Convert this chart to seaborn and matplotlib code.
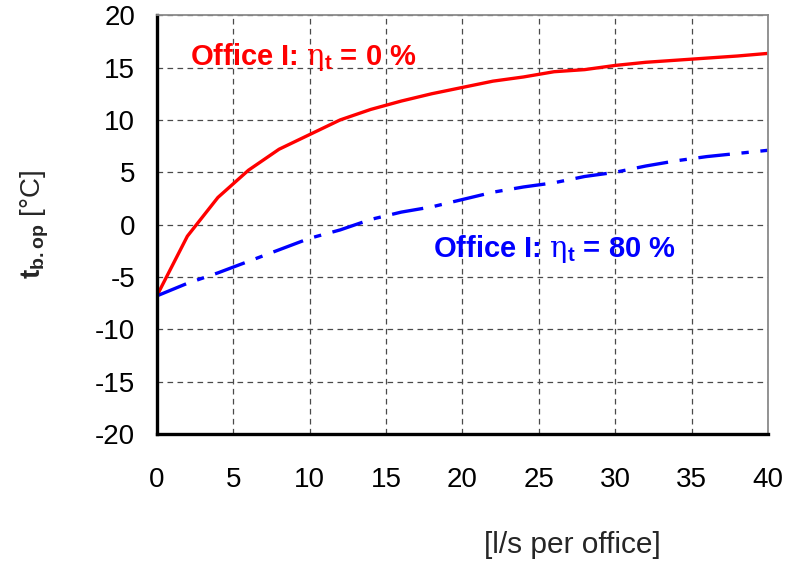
import numpy as np
import pandas as pd
import matplotlib
matplotlib.use("Agg")
import matplotlib.pyplot as plt
import seaborn as sns

# Airflow per office [l/s]
airflow = [0, 2, 4, 6, 8, 10, 12, 14, 16, 18, 20, 22, 24, 26, 28, 30, 32, 34, 36, 38, 40]
# Balance temperature, no heat recovery
t_eta0 = [-6.8, -1.1, 2.6, 5.2, 7.2, 8.6, 10.0, 11.0, 11.8, 12.5, 13.1, 13.7, 14.1, 14.6,
          14.8, 15.2, 15.5, 15.7, 15.9, 16.1, 16.35]
# Balance temperature, 80 % heat recovery
t_eta80 = [-6.8, -5.6, -4.6, -3.5, -2.4, -1.3, -0.5, 0.5, 1.2, 1.7, 2.4, 3.1, 3.6, 4.0,
           4.6, 5.0, 5.6, 6.1, 6.5, 6.8, 7.1]

x_ticks = [0, 5, 10, 15, 20, 25, 30, 35, 40]
y_ticks = [-20, -15, -10, -5, 0, 5, 10, 15, 20]

sns.set_style("white")
plt.rcParams["font.family"] = ["Liberation Sans", "DejaVu Sans"]
plt.rcParams["axes.unicode_minus"] = False
plt.rcParams["mathtext.fontset"] = "custom"
plt.rcParams["mathtext.rm"] = "DejaVu Serif"
plt.rcParams["mathtext.bf"] = "Liberation Sans:bold"
plt.rcParams["mathtext.it"] = "DejaVu Serif"

df = pd.DataFrame({
    "airflow": airflow * 2,
    "t": t_eta0 + t_eta80,
    "case": ["0"] * len(airflow) + ["80"] * len(airflow),
})

fig = plt.figure(figsize=(8.0, 5.61), dpi=100)
ax = fig.add_axes([0.196, 0.226, 0.764, 0.747])

sns.lineplot(data=df[df.case == "0"], x="airflow", y="t", color="#ff0000",
             linewidth=2.4, ax=ax, legend=False)
sns.lineplot(data=df[df.case == "80"], x="airflow", y="t", color="#0000ff",
             linewidth=2.4, ax=ax, legend=False)
ax.lines[1].set_dashes([9.5, 3.5, 2.2, 3.5])
ax.lines[1].set_dash_capstyle("butt")

ax.set_xlim(0, 40)
ax.set_ylim(-20, 20)
ax.set_xticks(x_ticks)
ax.set_yticks(y_ticks)
ax.set_xticklabels([str(v) for v in x_ticks])
ax.set_yticklabels([str(v) for v in y_ticks])
ax.tick_params(axis="both", labelsize=20, length=7.5, width=2.4, direction="out",
               color="black", labelcolor="black")
ax.tick_params(axis="y", pad=8)
ax.tick_params(axis="x", pad=16)
ax.grid(True, linestyle=(0, (4.5, 3.5)), color="#4a4a4a", linewidth=0.9)
ax.set_axisbelow(True)

for side in ("left", "bottom"):
    ax.spines[side].set_color("black")
    ax.spines[side].set_linewidth(2.4)
for side in ("top", "right"):
    ax.spines[side].set_color("#8a8a8a")
    ax.spines[side].set_linewidth(1.3)

ax.set_xlabel("")
ax.set_ylabel("")
fig.text(35 / 800, 1 - 224 / 561, r"$\mathbf{t}_{\mathbf{b.op}}$ [°C]", fontsize=20,
         rotation=90, ha="center", va="center")
fig.text(0.715, 1 - 545 / 561, "[l/s per office]", fontsize=21.5, ha="center", va="center")

ax.text(2.16, 15.23, r"Office I: $\mathrm{\eta}_{\mathbf{t}}$ = 0 %", color="#ff0000",
        fontsize=21, fontweight="bold", ha="left", va="baseline")
ax.text(18.05, -3.1, r"Office I: $\mathrm{\eta}_{\mathbf{t}}$ = 80 %", color="#0000ff",
        fontsize=21, fontweight="bold", ha="left", va="baseline")

fig.savefig("out.png", dpi=100)
